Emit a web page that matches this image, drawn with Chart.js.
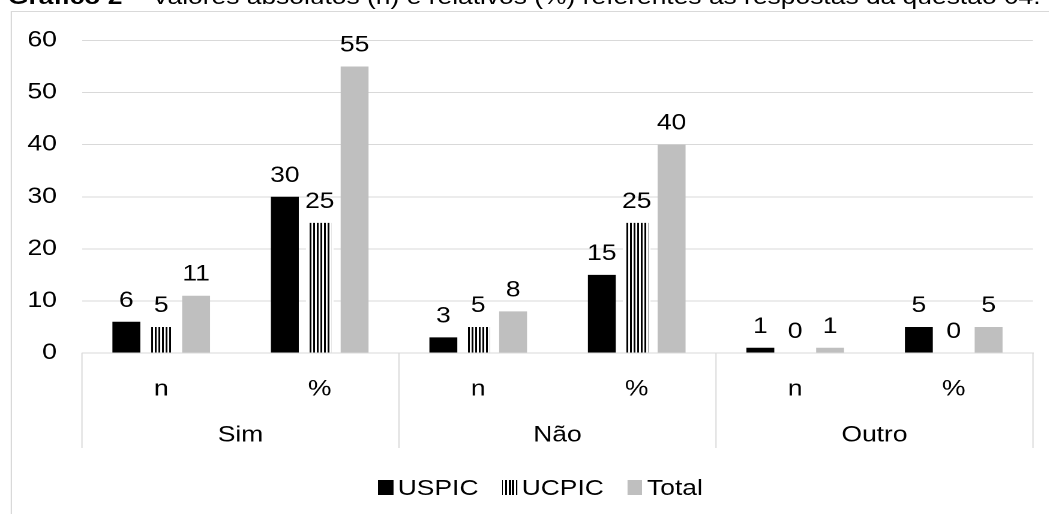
<!DOCTYPE html>
<html>
<head>
<meta charset="utf-8">
<script src="https://cdn.jsdelivr.net/npm/chart.js@4.4.0/dist/chart.umd.min.js"></script>
<style>
  html, body { margin: 0; padding: 0; background: #fff; overflow: hidden; }
  body { width: 1049px; height: 514px; position: relative; }
  /* o gráfico original está esticado na horizontal */
  #esticar { position: absolute; left: 0; top: 0; width: 874px; height: 514px; transform: scaleX(1.2); transform-origin: 0 0; font-family: "Liberation Sans", Arial, sans-serif; color: #000; }
  #titulo { position: absolute; left: 6.7px; top: -14.5px; font-size: 22px; line-height: 22px; white-space: nowrap; }
  #moldura { position: absolute; left: 9.1px; top: 11px; width: 1000px; height: 600px; border: 1px solid #d9d9d9; }
  #grafico { position: absolute; left: 0; top: 0; }
  #legenda { position: absolute; left: 315px; top: 477.4px; font-size: 22px; line-height: 22px; white-space: nowrap; }
  #legenda span.item { margin-right: 19.5px; }
  #legenda span.caixa { display: inline-block; width: 12.5px; height: 15px; margin-right: 4px; vertical-align: baseline; }
</style>
</head>
<body>
<div id="esticar">
  <div id="titulo"><b>Gráfico 2 –</b> Valores absolutos (n) e relativos (%) referentes às respostas da questão 04.</div>
  <div id="moldura"></div>
  <canvas id="grafico" width="874" height="514"></canvas>
  <div id="legenda"></div>
</div>
<script>
const subcategorias = ["n", "%", "n", "%", "n", "%"]
const grupos = ["Sim", "Não", "Outro"]
const uspic = [6, 30, 3, 15, 1, 5]
const ucpic = [5, 25, 5, 25, 0, 0]
const total = [11, 55, 8, 40, 1, 5]
const ticksY = [0, 10, 20, 30, 40, 50, 60]

const fonte = { family: '"Liberation Sans", Arial, sans-serif', size: 22 }

// listras verticais para UCPIC
const ladrilho = document.createElement("canvas")
ladrilho.width = 6
ladrilho.height = 6
const lctx = ladrilho.getContext("2d")
lctx.fillStyle = "#fff"
lctx.fillRect(0, 0, 6, 6)
lctx.fillStyle = "#000"
lctx.fillRect(0, 0, 3, 6)
const ctxGrafico = document.getElementById("grafico").getContext("2d")
const listras = ctxGrafico.createPattern(ladrilho, "repeat")
listras.setTransform(new DOMMatrix().scale(0.5))

const rotulos = {
  id: "rotulos",
  afterDatasetsDraw(chart) {
    const ctx = chart.ctx
    ctx.save()
    ctx.font = fonte.size + "px " + fonte.family
    ctx.fillStyle = "#000"
    ctx.textAlign = "center"
    ctx.textBaseline = "alphabetic"
    chart.data.datasets.forEach((ds, i) => {
      chart.getDatasetMeta(i).data.forEach((barra, j) => {
        ctx.fillText(ds.data[j], barra.x, barra.y - 15)
      })
    })
    ctx.restore()
  },
}

const separadores = {
  id: "separadores",
  afterDraw(chart) {
    const ctx = chart.ctx
    const area = chart.chartArea
    const baixo = chart.scales.x2.bottom - 2
    const passo = (area.right - area.left) / grupos.length
    ctx.save()
    ctx.strokeStyle = "#d9d9d9"
    ctx.lineWidth = 1
    for (let k = 0; k <= grupos.length; k++) {
      const x = area.left + k * passo
      ctx.beginPath()
      ctx.moveTo(x, area.bottom)
      ctx.lineTo(x, baixo)
      ctx.stroke()
    }
    ctx.restore()
  },
}

const grafico = new Chart(ctxGrafico, {
  type: "bar",
  data: {
    labels: subcategorias,
    datasets: [
      { label: "USPIC", data: uspic, backgroundColor: "#000" },
      { label: "UCPIC", data: ucpic, backgroundColor: listras, borderColor: "#fff", borderWidth: { left: 2, right: 2, top: 0, bottom: 0 } },
      { label: "Total", data: total, backgroundColor: "#bfbfbf" },
    ],
  },
  options: {
    responsive: false,
    animation: false,
    devicePixelRatio: 2,
    layout: { padding: { top: 40.5, left: 8.3, right: 13.2, bottom: 64 } },
    datasets: { bar: { categoryPercentage: 0.66, barPercentage: 0.8 } },
    plugins: { legend: { display: false }, tooltip: { enabled: false } },
    scales: {
      y: {
        min: 0,
        max: 60,
        afterBuildTicks: (eixo) => { eixo.ticks = ticksY.map((v) => ({ value: v })) },
        grid: { color: "#d9d9d9", drawTicks: false },
        border: { display: false },
        ticks: { font: fonte, color: "#000", padding: 21 },
        afterFit: (eixo) => { eixo.width = 60 },
      },
      x: {
        grid: { display: false, drawTicks: false },
        border: { color: "#d9d9d9" },
        ticks: { font: fonte, color: "#000", padding: 23.2 },
        afterFit: (eixo) => { eixo.height = 49 },
      },
      x2: {
        type: "category",
        labels: grupos,
        offset: true,
        position: "bottom",
        grid: { display: false, drawTicks: false },
        border: { display: false },
        ticks: { font: fonte, color: "#000", padding: 20.2 },
        afterFit: (eixo) => { eixo.height = 48 },
      },
    },
  },
  plugins: [rotulos, separadores],
})

// legenda feita à mão a partir dos datasets
const legenda = document.getElementById("legenda")
grafico.data.datasets.forEach((ds) => {
  const item = document.createElement("span")
  item.className = "item"
  const caixa = document.createElement("span")
  caixa.className = "caixa"
  caixa.style.background = ds.label === "UCPIC"
    ? "repeating-linear-gradient(90deg, #000 0 1.5px, #fff 1.5px 3px)"
    : ds.backgroundColor
  item.appendChild(caixa)
  item.appendChild(document.createTextNode(ds.label))
  legenda.appendChild(item)
})
</script>
</body>
</html>
